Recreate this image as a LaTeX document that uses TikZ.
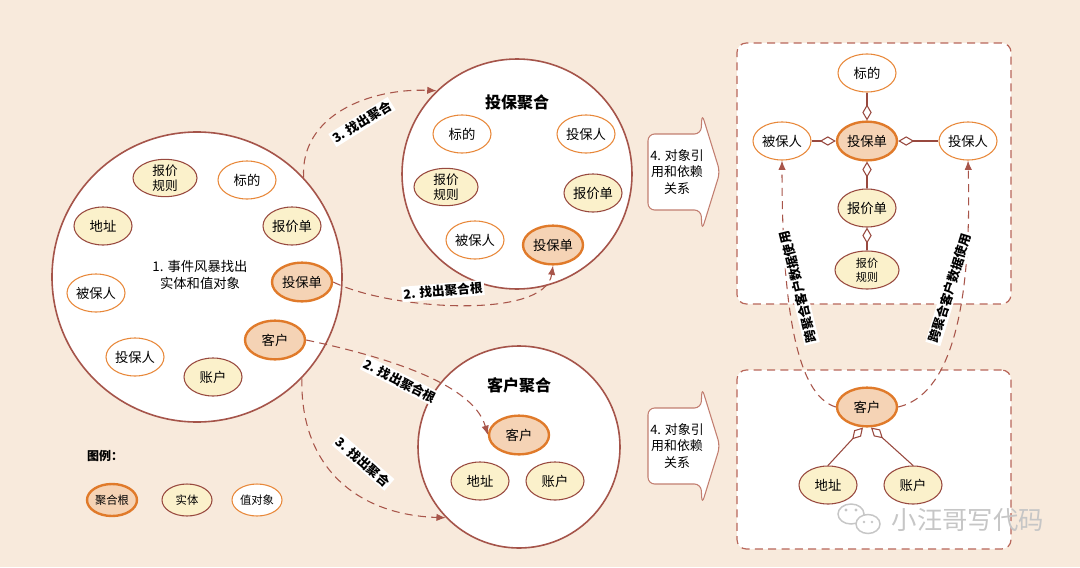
\documentclass[tikz,border=0pt]{standalone}
\usepackage{fontspec}
\setmainfont{Noto Sans CJK SC}
\usetikzlibrary{shapes.geometric,arrows.meta}
\definecolor{bg}{HTML}{F8EADC}
\definecolor{rootfill}{HTML}{F5D3B5}
\definecolor{rootdraw}{HTML}{E07A2A}
\definecolor{entfill}{HTML}{FBF1CB}
\definecolor{entdraw}{HTML}{98493F}
\definecolor{valdraw}{HTML}{E8883A}
\definecolor{circdraw}{HTML}{A5544A}
\definecolor{dashcol}{HTML}{A8554A}
\definecolor{boxcol}{HTML}{B8665A}
\definecolor{arrowcol}{HTML}{C27E70}
\definecolor{wmcol}{HTML}{C6C6C6}
\tikzset{
 base/.style={ellipse, inner sep=0pt, minimum width=43.5pt, minimum height=28.5pt, font=\fontsize{10}{12}\selectfont, align=center},
 root/.style={base, draw=rootdraw, fill=rootfill, line width=1.8pt, minimum width=45pt, minimum height=29pt},
 ent/.style={base, draw=entdraw, fill=entfill, line width=0.8pt},
 val/.style={base, draw=valdraw, fill=white, line width=0.8pt},
 two/.style={minimum width=48pt, minimum height=28pt, font=\fontsize{9.5}{11}\selectfont},
 agg/.style={draw=entdraw, line width=0.8pt, {Diamond[open, length=12pt, width=7pt]}-},
 flow/.style={draw=dashcol, line width=0.8pt, dash pattern=on 6pt off 4pt, -{Latex[length=7pt,width=5.5pt]}},
 lbl/.style={fill=white, inner sep=1.2pt, font=\bfseries\fontsize{9.5}{11}\selectfont},
 agcircle/.style={circle, draw=circdraw, fill=white, line width=1.2pt, inner sep=0pt},
 ttl/.style={font=\bfseries\fontsize{12}{14}\selectfont},
 bigarrow/.style={draw=arrowcol, fill=white, line width=0.8pt, rounded corners=5pt},
 arrowtxt/.style={align=center, font=\fontsize{9.7}{12.5}\selectfont},
 dbox/.style={draw=boxcol, dash pattern=on 6pt off 4pt, line width=0.9pt, fill=white, rounded corners=7pt, inner sep=0pt},
 leg/.style={minimum width=37.5pt, minimum height=24pt, font=\fontsize{8.5}{10}\selectfont},
}
\begin{document}
\begin{tikzpicture}[x=0.75pt,y=-0.75pt]
\path[use as bounding box, fill=bg] (0,0) rectangle (1080,567);

% ---------- circle 1 ----------
\node[agcircle, minimum size=217.5pt] (c1) at (197,277) {};
\node[ent, two] (gz1) at (165,178) {报价\\规则};
\node[val] (bd1) at (247,180) {标的};
\node[ent] (dz1) at (103,226) {地址};
\node[ent] (bj1) at (292,226) {报价单};
\node[align=center, font=\fontsize{10}{12.5}\selectfont] (t1) at (200,275) {1. 事件风暴找出\\实体和值对象};
\node[root] (tb1) at (302,282) {投保单};
\node[val] (bb1) at (96,293) {被保人};
\node[root] (kh1) at (275,340) {客户};
\node[val] (tbr1) at (135,357) {投保人};
\node[ent] (zh1) at (213,377) {账户};

% ---------- circle 2 ----------
\node[agcircle, minimum size=172.5pt] (c2) at (517,174) {};
\node[ttl] (t2) at (517,102) {投保聚合};
\node[val] (bd2) at (462,134) {标的};
\node[val] (tbr2) at (586,134) {投保人};
\node[ent, two] (gz2) at (446,187) {报价\\规则};
\node[ent] (bj2) at (593,193) {报价单};
\node[val] (bb2) at (475,240) {被保人};
\node[root] (tb2) at (553,245) {投保单};

% ---------- circle 3 ----------
\node[agcircle, minimum size=151.5pt] (c3) at (519,447) {};
\node[ttl] (t3) at (519,385) {客户聚合};
\node[root] (kh3) at (519,435) {客户};
\node[ent] (dz3) at (480,481) {地址};
\node[ent] (zh3) at (555,481) {账户};

% ---------- flows ----------
\draw[flow] (c1.43) .. controls (300,115) and (370,88) .. (c2.134);
\node[lbl, rotate=32] (l3a) at (362,122) {3. 找出聚合};
\draw[flow] (tb1.east) .. controls (390,310) and (545,320) .. (tb2.south);
\node[lbl, rotate=5] (l2a) at (443,291) {2. 找出聚合根};
\draw[flow] (kh1.east) .. controls (410,362) and (475,390) .. (kh3.west);
\node[lbl, rotate=-27] (l2b) at (400,381) {2. 找出聚合根};
\draw[flow] (c1.-44) .. controls (300,470) and (360,515) .. (c3.224);
\node[lbl, rotate=-41] (l3b) at (363,462) {3. 找出聚合};

% ---------- big arrows ----------
\draw[bigarrow] (648,134) -- (701,134) -- (702,114) -- (720,172) -- (702,230) -- (701,210) -- (648,210) -- cycle;
\node[arrowtxt] (a4u) at (677,172) {4. 对象引\\用和依赖\\关系};
\draw[bigarrow] (648,408) -- (701,408) -- (702,388) -- (720,446) -- (702,504) -- (701,484) -- (648,484) -- cycle;
\node[arrowtxt] (a4l) at (677,446) {4. 对象引\\用和依赖\\关系};

% ---------- dashed boxes ----------
\node[dbox, minimum width=205.5pt, minimum height=195.75pt] (box1) at (874,173.5) {};
\node[dbox, minimum width=205.5pt, minimum height=134.25pt] (box2) at (874,459.5) {};

\node[val] (bd4) at (867,73) {标的};
\node[val] (bb4) at (782,141) {被保人};
\node[root] (tb4) at (867,141) {投保单};
\node[val] (tbr4) at (968,141) {投保人};
\node[ent] (bj4) at (867,208) {报价单};
\node[ent, minimum width=48pt, font=\fontsize{8.3}{10.5}\selectfont] (gz4) at (867,270) {报价\\规则};
\draw[agg] (tb4.north) -- (bd4.south);
\draw[agg] (tb4.west) -- (bb4.east);
\draw[agg] (tb4.east) -- (tbr4.west);
\draw[agg] (tb4.south) -- (bj4.north);
\draw[agg] (bj4.south) -- (gz4.north);

\node[root] (kh5) at (867,407) {客户};
\node[ent] (dz5) at (828,485) {地址};
\node[ent] (zh5) at (913,485) {账户};
\draw[agg] ([xshift=-3pt]kh5.south) -- (dz5.north);
\draw[agg] ([xshift=3pt]kh5.south) -- (zh5.north);

\draw[flow] (kh5.west) .. controls (795,395) and (782,300) .. (bb4.south);
\node[lbl, rotate=104] (l4a) at (798,287) {跨聚合客户数据使用};
\draw[flow] (kh5.east) .. controls (950,395) and (972,310) .. (tbr4.south);
\node[lbl, rotate=73] (l4b) at (950,288) {跨聚合客户数据使用};

% ---------- legend ----------
\node[font=\bfseries\fontsize{9}{11}\selectfont] (legt) at (105,456) {图例：};
\node[root, leg] (lg1) at (112,500) {聚合根};
\node[ent, leg] (lg2) at (187,500) {实体};
\node[val, leg] (lg3) at (257,500) {值对象};

% ---------- watermark ----------
\draw[wmcol, line width=1.1pt, fill=white] (851,514) ellipse [x radius=13, y radius=10];
\draw[wmcol, line width=1.1pt, fill=white] (868,524) ellipse [x radius=12, y radius=9.5];
\fill[wmcol] (846,510) circle [radius=1.6] (856,510) circle [radius=1.6] (864,522) circle [radius=1.4] (872,522) circle [radius=1.4];
\node[text=wmcol, font=\fontsize{19}{21}\selectfont, anchor=west] (wm) at (887,520) {小汪哥写代码};
\end{tikzpicture}
\end{document}
